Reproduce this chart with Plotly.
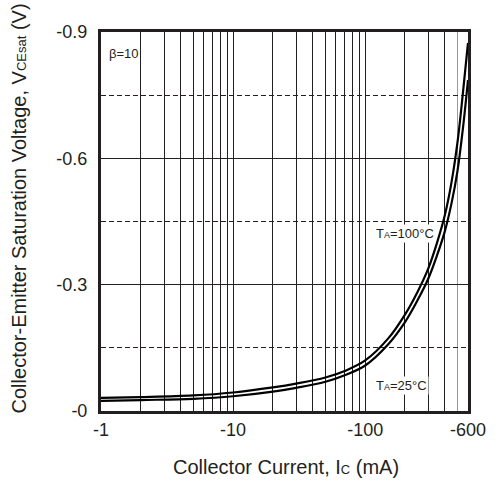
import plotly.graph_objects as go

# Collector current magnitude (mA)
current_ma = [1, 2, 5, 10, 20, 30, 50, 70, 100, 150, 200, 250, 300, 350, 400, 450, 500, 550, 600]
# |VCE(sat)| (V) at TA=100°C (upper/left curve)
vce_100 = [0.031, 0.033, 0.037, 0.044, 0.056, 0.065, 0.0795, 0.095, 0.120, 0.173, 0.229, 0.284,
           0.338, 0.400, 0.464, 0.543, 0.639, 0.757, 0.874]
# |VCE(sat)| (V) at TA=25°C (lower/right curve)
vce_25 = [0.024, 0.026, 0.029, 0.035, 0.046, 0.055, 0.0695, 0.085, 0.108, 0.159, 0.211, 0.264,
          0.314, 0.370, 0.426, 0.493, 0.571, 0.673, 0.786]

x_grid_vals = [1, 2, 3, 4, 5, 6, 7, 8, 9, 10, 20, 30, 40, 50, 60, 70, 80, 90, 100, 200, 300, 400, 600]
x_grey_vals = [500]
x_labels = {1: "-1", 10: "-10", 100: "-100", 600: "-600"}
y_tick_vals = [0, 0.3, 0.6, 0.9]
y_tick_text = ["-0", "-0.3", "-0.6", "-0.9"]
y_dash_vals = [0.15, 0.45, 0.75]

INK = "#231f20"
FONT = "Liberation Sans, Arial, sans-serif"

fig = go.Figure()
fig.add_trace(go.Scatter(x=current_ma, y=vce_100, mode="lines",
                         line=dict(color="black", width=2.2, shape="spline", smoothing=1),
                         name="TA=100°C", showlegend=False))
fig.add_trace(go.Scatter(x=current_ma, y=vce_25, mode="lines",
                         line=dict(color="black", width=2.2, shape="spline", smoothing=1),
                         name="TA=25°C", showlegend=False))

fig.update_layout(
    width=498, height=484,
    margin=dict(l=101, r=19, t=32, b=73),
    paper_bgcolor="white", plot_bgcolor="white",
    font=dict(family=FONT, color=INK, size=18),
    xaxis=dict(
        type="log", range=[0, 2.77815],
        tickmode="array", tickvals=x_grid_vals,
        ticktext=[x_labels.get(v, "") for v in x_grid_vals],
        showgrid=True, gridcolor=INK, gridwidth=1,
        minor=dict(tickvals=x_grey_vals, showgrid=True, gridcolor="#9a9a9a", gridwidth=1, ticks=""),
        showline=True, mirror=True, linewidth=3, linecolor=INK,
        ticks="", zeroline=False, tickfont=dict(size=18),
    ),
    yaxis=dict(
        range=[0, 0.9], tickmode="array", tickvals=y_tick_vals, ticktext=y_tick_text,
        showgrid=True, gridcolor=INK, gridwidth=1,
        minor=dict(tickvals=y_dash_vals, showgrid=True, griddash="5px,3px", gridcolor=INK, gridwidth=1, ticks=""),
        showline=True, mirror=True, linewidth=3, linecolor=INK,
        ticks="", zeroline=False, tickfont=dict(size=18), ticklabelstandoff=7,
    ),
)

fig.add_annotation(text="β=10", xref="paper", yref="paper", x=0.015, y=0.943,
                   xanchor="left", yanchor="middle", showarrow=False, font=dict(size=13, color=INK))
fig.add_annotation(text='T<span style="font-size:9px">A</span>=100°C', xref="paper", yref="paper",
                   x=(414 - 101) / 378, y=(411 - 233) / 379, xanchor="center", yanchor="middle",
                   showarrow=False, bgcolor="white", borderpad=1, font=dict(size=13, color=INK))
fig.add_annotation(text='T<span style="font-size:9px">A</span>=25°C', xref="paper", yref="paper",
                   x=(410 - 101) / 378, y=(411 - 385) / 379, xanchor="center", yanchor="middle",
                   showarrow=False, bgcolor="white", borderpad=1, font=dict(size=13, color=INK))
fig.add_annotation(text='Collector Current, I<span style="font-size:13px">C</span> (mA)', xref="paper", yref="paper",
                   x=(292 - 101) / 378, y=-(467 - 411) / 379, xanchor="center", yanchor="middle",
                   showarrow=False, font=dict(size=20, color=INK))
fig.add_annotation(text='Collector-Emitter Saturation Voltage, V<span style="font-size:13px">CEsat</span> (V)',
                   xref="paper", yref="paper", x=(17 - 101) / 378, y=(411 - 208) / 379,
                   xanchor="center", yanchor="middle", textangle=-90,
                   showarrow=False, font=dict(size=20, color=INK))

fig.write_html("out.html", config={"displayModeBar": False})

with open("out.html", "r", encoding="utf-8") as f:
    html = f.read()
html = html.replace("<head>", "<head><style>html,body{margin:0;padding:0;overflow:hidden;}</style>", 1)
with open("out.html", "w", encoding="utf-8") as f:
    f.write(html)
